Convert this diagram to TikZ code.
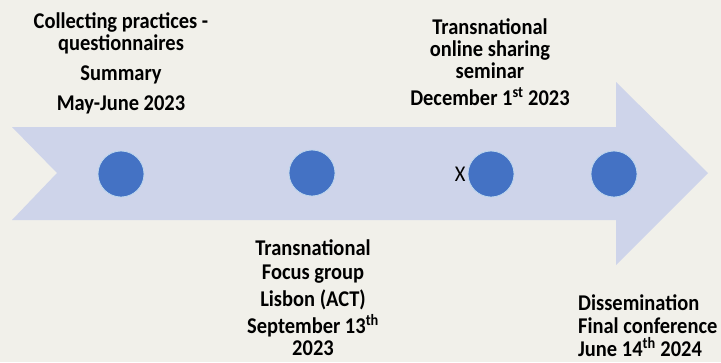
\documentclass[tikz,border=0pt]{standalone}
\usepackage{fontspec}
\setmainfont[FakeStretch=0.91]{Carlito}
\usepackage{tikz}
\usetikzlibrary{positioning}
\definecolor{paper}{HTML}{F1F0EA}
\definecolor{shaft}{HTML}{CED4EA}
\definecolor{dotblue}{HTML}{4472C4}
\definecolor{dotrim}{HTML}{BDD7EE}
\tikzset{
	lbl/.style={font=\bfseries\fontsize{22.5}{22}\selectfont, align=center, inner sep=0pt},
	dot/.style={circle, minimum size=46pt, inner sep=0pt, fill=dotblue, draw=dotrim, line width=0.8pt}
}

\begin{document}
\begin{tikzpicture}[x=1pt, y=-1pt]
		%%%%% START %%%%%
		
		\fill[paper] (0, 0) rectangle (721, 362);
		\useasboundingbox (0, 0) rectangle (721, 362);
		
		\fill[shaft] (12, 127) -- (616, 127) -- (616, 82) -- (708, 173) -- (616, 265) -- (616, 220) -- (12, 220) -- (57, 173) -- cycle;
		
		\node[dot] (d1) at (121, 174) {};
		\node[dot] (d2) at (312, 173) {};
		\node[dot] (d3) at (491, 174) {};
		\node[dot] (d4) at (614, 174) {};
		\node[anchor=east, inner sep=0pt, font=\fontsize{22.5}{22}\selectfont] (xmark) at ([xshift=-2pt]d3.west) {X};
		
		% anchor base = last line
		\node[lbl, anchor=base] (collect) at (121, 110) {Collecting practices -\\questionnaires\\[8pt]Summary\\[8pt]May-June 2023};
		\node[lbl, anchor=base] (seminar) at (490, 105) {Transnational\\online sharing\\seminar\\[5pt]December 1\textsuperscript{st} 2023};
		\node[lbl, anchor=base] (focus) at (313, 355) {Transnational\\[2pt]Focus group\\[5pt]Lisbon (ACT)\\[5pt]September 13\textsuperscript{th}\\[0pt]2023};
		\node[lbl, align=left, anchor=base west] (final) at (578, 356) {Dissemination\\[1pt]Final conference\\[1pt]June 14\textsuperscript{th} 2024};
		
		%%%%% END %%%%%
	\end{tikzpicture}
\end{document}
